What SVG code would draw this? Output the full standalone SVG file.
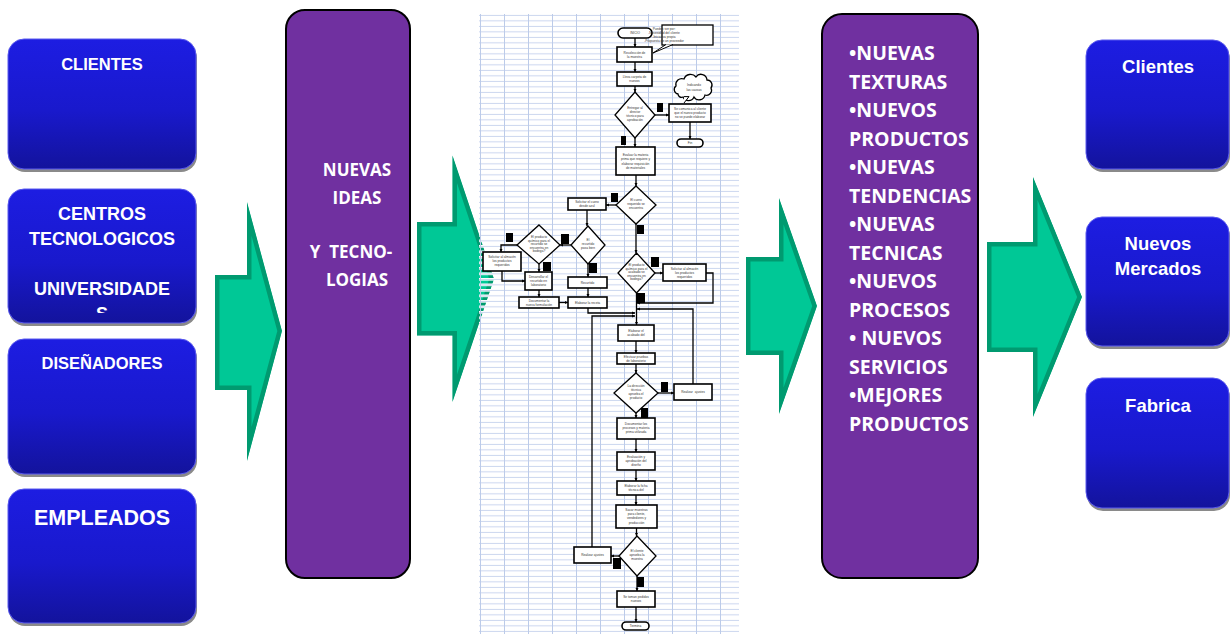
<svg xmlns="http://www.w3.org/2000/svg" width="1232" height="634" viewBox="0 0 1232 634">
<defs>
  <linearGradient id="blueFill" x1="0" y1="0" x2="0" y2="1">
    <stop offset="0" stop-color="#1d1de2"/>
    <stop offset="0.55" stop-color="#1919cc"/>
    <stop offset="1" stop-color="#13139c"/>
  </linearGradient>
  <pattern id="rows" patternUnits="userSpaceOnUse" x="480" y="14" width="24" height="5.5">
    <rect x="0" y="0" width="24" height="2.6" fill="#ffffff"/>
    <rect x="0" y="0.9" width="24" height="0.9" fill="#c6d3ee"/>
    <rect x="0" y="0" width="1" height="5.5" fill="#bccbe9"/>
  </pattern>
  <marker id="ah" viewBox="0 0 6 6" refX="6" refY="3" markerWidth="3.2" markerHeight="3.2" markerUnits="userSpaceOnUse" orient="auto">
    <path d="M0,0 L6,3 L0,6 Z" fill="#000"/>
  </marker>
  <polygon id="arr1" points="215,275 247,275 247,202 282,331 247,461 247,390 215,390"/>
  <polygon id="arr2" points="417,222 452.5,222 452.5,155.5 494,279 452.5,402 452.5,335.5 417,335.5"/>
  <polygon id="arr3" points="746,257 779,257 779,198 817,306 779,414 779,355 746,355"/>
  <polygon id="arr4" points="987,242 1033,242 1033,177 1082,297 1033,417 1033,352 987,352"/>
  <clipPath id="c1"><use href="#arr1"/></clipPath>
  <clipPath id="c2"><use href="#arr2"/></clipPath>
  <clipPath id="c3"><use href="#arr3"/></clipPath>
  <clipPath id="c4"><use href="#arr4"/></clipPath>
  <clipPath id="box2clip"><rect x="8" y="189" width="188" height="124"/></clipPath>
  <style>
    .bx{fill:url(#blueFill);stroke:#5a5aee;stroke-width:1}
    .shd{fill:#8a8a8a}
    .bt{font-family:"Liberation Sans",Arial,sans-serif;font-weight:bold;fill:#ffffff;text-anchor:middle}
    .pp{fill:#7030a0;stroke:#000000;stroke-width:2}
    .pt{font-family:"Open Sans",sans-serif;font-weight:bold;fill:#ffffff;white-space:pre}
    .ga{fill:#00c896;stroke:#009a70;stroke-width:9}
    .fb{fill:#ffffff;stroke:#000000;stroke-width:1.6}
    .fd{fill:#ffffff;stroke:#000000;stroke-width:1.3}
    .ft{font-family:"Liberation Sans",Arial,sans-serif;font-size:3.2px;fill:#333333;text-anchor:middle;white-space:pre}
    .fl{fill:none;stroke:#000000;stroke-width:1.3}
    .fa{fill:none;stroke:#000000;stroke-width:1.3;marker-end:url(#ah)}
    .lb{fill:#000000}
  </style>
</defs>

<rect width="1232" height="634" fill="#ffffff"/>

<!-- sources -->
<g id="node-clientes">
  <rect class="shd" x="9" y="42" width="188" height="130" rx="16"/>
  <rect class="bx" x="8" y="39" width="188" height="130" rx="16"/>
  <text class="bt" x="102" y="70" font-size="16.5">CLIENTES</text>
</g>
<g id="node-centros">
  <rect class="shd" x="9" y="192" width="188" height="134" rx="16"/>
  <rect class="bx" x="8" y="189" width="188" height="134" rx="16"/>
  <text class="bt" x="102" y="219.5" font-size="18">CENTROS</text>
  <text class="bt" x="102" y="244.5" font-size="18">TECNOLOGICOS</text>
  <text class="bt" x="102" y="294.5" font-size="18">UNIVERSIDADE</text>
  <text class="bt" x="102" y="319.5" font-size="18" clip-path="url(#box2clip)">S</text>
</g>
<g id="node-disenadores">
  <rect class="shd" x="9" y="342" width="188" height="135" rx="16"/>
  <rect class="bx" x="8" y="339" width="188" height="135" rx="16"/>
  <text class="bt" x="102" y="369" font-size="16.5">DISEÑADORES</text>
</g>
<g id="node-empleados">
  <rect class="shd" x="9" y="492" width="188" height="134" rx="16"/>
  <rect class="bx" x="8" y="489" width="188" height="134" rx="16"/>
  <text class="bt" x="102" y="525" font-size="21.5">EMPLEADOS</text>
</g>

<!-- ideas block -->
<g id="node-ideas">
  <rect class="pp" x="286" y="10" width="124" height="568" rx="19"/>
  <text class="pt" x="357" y="176" font-size="17" text-anchor="middle">NUEVAS</text>
  <text class="pt" x="357" y="204" font-size="17" text-anchor="middle">IDEAS</text>
  <text class="pt" x="351" y="258" font-size="17" text-anchor="middle">Y  TECNO-</text>
  <text class="pt" x="357" y="286" font-size="17" text-anchor="middle">LOGIAS</text>
</g>

<!-- flowchart sheet: background first, the incoming arrow shows through the cells -->
<g id="node-flowchart">
  <rect x="479" y="14" width="260" height="620" fill="#ffffff"/>
</g>

<g id="connectors">
  <g clip-path="url(#c1)"><use href="#arr1" class="ga"/></g>
  <g clip-path="url(#c2)"><use href="#arr2" class="ga"/></g>
  <g clip-path="url(#c3)"><use href="#arr3" class="ga"/></g>
  <g clip-path="url(#c4)"><use href="#arr4" class="ga"/></g>
</g>

<g id="node-flowchart-sheet">
  <rect x="479" y="14" width="260" height="620" fill="url(#rows)"/>

  <!-- flow lines -->
  <g id="flow-lines">
    <path class="fa" d="M635,38 V47"/>
    <path class="fa" d="M635,62 V72"/>
    <path class="fa" d="M635,86 V92"/>
    <path class="fa" d="M655,115 H669"/>
    <path class="fa" d="M690,122 V139"/>
    <path class="fa" d="M635,138 V147"/>
    <path class="fa" d="M636,175 V186"/>
    <path class="fa" d="M616,205 H606"/>
    <path class="fa" d="M587,210 V226"/>
    <path class="fa" d="M571,245 H560"/>
    <path class="fa" d="M517,245 H501 V252"/>
    <path class="fa" d="M539,264 V272"/>
    <path class="fa" d="M502,271 V281 H525"/>
    <path class="fa" d="M539,290 V297"/>
    <path class="fa" d="M559,302.5 H568"/>
    <path class="fa" d="M588,264 V277"/>
    <path class="fa" d="M588,288 V297"/>
    <path class="fa" d="M588,308 V313 H635"/>
    <path class="fa" d="M655,273 H663"/>
    <path class="fa" d="M706,273 H713 V303 H637"/>
    <path class="fa" d="M636,224 V253"/>
    <path class="fa" d="M636.5,293 V325"/>
    <path class="fa" d="M693,384 V309 H637"/>
    <path class="fa" d="M592,547 V316 H635"/>
    <path class="fa" d="M636,341 V353"/>
    <path class="fa" d="M636,364 V373"/>
    <path class="fa" d="M658,393 H674"/>
    <path class="fa" d="M636,413 V418"/>
    <path class="fa" d="M636,439 V452"/>
    <path class="fa" d="M636,470 V481"/>
    <path class="fa" d="M636,495 V505"/>
    <path class="fa" d="M636.5,528 V536"/>
    <path class="fa" d="M619,556 H611"/>
    <path class="fa" d="M637,576 V591"/>
    <path class="fa" d="M636,607 V622"/>
  </g>

  <!-- start and notes -->
  <rect class="fb" x="618" y="28" width="34" height="10" rx="5"/>
  <text class="ft" x="635" y="34.3">INICIO</text>
  <rect class="fd" x="662" y="25" width="51" height="20"/>
  <path d="M666,44.5 L653,53 L673,44.5" fill="#ffffff" stroke="#000" stroke-width="1"/>
  <text class="ft" x="664" y="29.5" font-size="2.8" text-anchor="start">Pueden ser por:</text>
  <text class="ft" x="664" y="33.5" font-size="2.8" text-anchor="start">-Necesidad del cliente</text>
  <text class="ft" x="664" y="37.5" font-size="2.8" text-anchor="start">-Iniciativa propia</text>
  <text class="ft" x="664" y="41.5" font-size="2.8" text-anchor="start">-Propuesta de un proveedor</text>

  <rect class="fb" x="617" y="47" width="35" height="15"/>
  <text class="ft" x="634.5" y="53.5">Recolección de</text>
  <text class="ft" x="634.5" y="58">la muestra</text>
  <rect class="fb" x="617" y="72" width="35" height="14"/>
  <text class="ft" x="634.5" y="77.5">Lleva carpeta de</text>
  <text class="ft" x="634.5" y="82">nuevos</text>

  <polygon class="fd" points="635,92 655,115 635,138 615,115"/>
  <text class="ft" x="635" y="109" font-size="2.7">Entregar al</text>
  <text class="ft" x="635" y="113" font-size="2.7">director</text>
  <text class="ft" x="635" y="117" font-size="2.7">técnico para</text>
  <text class="ft" x="635" y="121" font-size="2.7">aprobación</text>

  <path class="fd" d="M678,94 a4.5,4.5 0 0 1 -2,-8 a6,6 0 0 1 8,-7 a7,7 0 0 1 12,-2 a6,6 0 0 1 11,3 a5,5 0 0 1 4,8 a5,5 0 0 1 -6,7 a6,6 0 0 1 -11,2 a6,6 0 0 1 -11,0 a3.5,3.5 0 0 1 -5,-3 z"/>
  <path d="M684,96.6 L689,96.6 L684,103" fill="#ffffff" stroke="#000" stroke-width="1"/>
  <text class="ft" x="694" y="86">Indicando</text>
  <text class="ft" x="694" y="91">las causas</text>

  <rect class="fb" x="669" y="104" width="42" height="18"/>
  <text class="ft" x="690" y="110">Se comunica al cliente</text>
  <text class="ft" x="690" y="114.2">que el nuevo producto</text>
  <text class="ft" x="690" y="118.4">no se puede elaborar</text>
  <rect class="fb" x="677" y="139" width="26" height="8" rx="4"/>
  <text class="ft" x="690" y="144.2">Fin</text>

  <rect class="fb" x="616" y="147" width="39" height="28"/>
  <text class="ft" x="635.5" y="155.6">Evaluar la materia</text>
  <text class="ft" x="635.5" y="160.2">prima que requiere y</text>
  <text class="ft" x="635.5" y="164.8">elaborar requisición</text>
  <text class="ft" x="635.5" y="169.4">de materiales</text>

  <polygon class="fd" points="636,186 656,205 636,224 616,205"/>
  <text class="ft" x="636" y="201" font-size="2.7">El cuero</text>
  <text class="ft" x="636" y="205" font-size="2.7">requerido se</text>
  <text class="ft" x="636" y="209" font-size="2.7">encuentra</text>

  <rect class="fb" x="568" y="198" width="38" height="12"/>
  <text class="ft" x="587" y="202.8">Solicitar el cuero</text>
  <text class="ft" x="587" y="207">desde azul</text>

  <polygon class="fd" points="588,226 605,245 588,264 571,245"/>
  <text class="ft" x="588" y="240.5" font-size="2.7">El</text>
  <text class="ft" x="588" y="244.5" font-size="2.7">recurtido</text>
  <text class="ft" x="588" y="248.5" font-size="2.7">pasa bien</text>

  <polygon class="fd" points="539,225 560,245 539,264 517,245"/>
  <text class="ft" x="539" y="238" font-size="2.5">El producto</text>
  <text class="ft" x="539" y="241.5" font-size="2.5">químico para el</text>
  <text class="ft" x="539" y="245" font-size="2.5">recurtido se</text>
  <text class="ft" x="539" y="248.5" font-size="2.5">encuentra en</text>
  <text class="ft" x="539" y="252" font-size="2.5">bodega?</text>

  <rect class="fb" x="483" y="252" width="38" height="19"/>
  <text class="ft" x="502" y="257.5">Solicitar al almacén</text>
  <text class="ft" x="502" y="261.7">los productos</text>
  <text class="ft" x="502" y="265.9">requeridos</text>

  <rect class="fb" x="525" y="272" width="27" height="18"/>
  <text class="ft" x="538.5" y="277.5">Desarrollar el</text>
  <text class="ft" x="538.5" y="281.7">recurtido en</text>
  <text class="ft" x="538.5" y="285.9">laboratorio</text>

  <rect class="fb" x="519" y="297" width="40" height="11"/>
  <text class="ft" x="539" y="301.5">Documentar la</text>
  <text class="ft" x="539" y="305.7">nueva formulación</text>

  <rect class="fb" x="568" y="277" width="39" height="11"/>
  <text class="ft" x="587.5" y="283.7">Recurtido</text>
  <rect class="fb" x="568" y="297" width="39" height="11"/>
  <text class="ft" x="587.5" y="303.7">Elaborar la receta</text>

  <polygon class="fd" points="636.5,253 655,273 636.5,293 618,273"/>
  <text class="ft" x="636.5" y="266" font-size="2.5">El producto</text>
  <text class="ft" x="636.5" y="269.5" font-size="2.5">químico para el</text>
  <text class="ft" x="636.5" y="273" font-size="2.5">acabado se</text>
  <text class="ft" x="636.5" y="276.5" font-size="2.5">encuentra en</text>
  <text class="ft" x="636.5" y="280" font-size="2.5">bodega?</text>

  <rect class="fb" x="663" y="264" width="43" height="17"/>
  <text class="ft" x="684.5" y="269.5">Solicitar al almacén</text>
  <text class="ft" x="684.5" y="273.7">los productos</text>
  <text class="ft" x="684.5" y="277.9">requeridos</text>

  <rect class="fb" x="618" y="325" width="36" height="16"/>
  <text class="ft" x="636" y="331.5">Elaborar el</text>
  <text class="ft" x="636" y="335.7">acabado del</text>

  <rect class="fb" x="617" y="353" width="38" height="11"/>
  <text class="ft" x="636" y="357.6">Efectuar pruebas</text>
  <text class="ft" x="636" y="361.8">de laboratorio</text>

  <polygon class="fd" points="636,373 658,393 636,413 614,393"/>
  <text class="ft" x="636" y="387" font-size="2.7">La dirección</text>
  <text class="ft" x="636" y="391" font-size="2.7">técnica</text>
  <text class="ft" x="636" y="395" font-size="2.7">aprueba el</text>
  <text class="ft" x="636" y="399" font-size="2.7">producto</text>

  <rect class="fb" x="674" y="384" width="38" height="16"/>
  <text class="ft" x="693" y="393.2">Realizar  ajustes</text>

  <rect class="fb" x="617" y="418" width="38" height="21"/>
  <text class="ft" x="636" y="424.5">Documentar los</text>
  <text class="ft" x="636" y="428.7">procesos y materia</text>
  <text class="ft" x="636" y="432.9">prima utilizada</text>

  <rect class="fb" x="617" y="452" width="38" height="18"/>
  <text class="ft" x="636" y="457.5">Evaluación y</text>
  <text class="ft" x="636" y="461.7">aprobación del</text>
  <text class="ft" x="636" y="465.9">diseño</text>

  <rect class="fb" x="617" y="481" width="38" height="14"/>
  <text class="ft" x="636" y="486.8">Elaborar la ficha</text>
  <text class="ft" x="636" y="491">técnica del</text>

  <rect class="fb" x="616" y="505" width="41" height="23"/>
  <text class="ft" x="636.5" y="511">Sacar muestras</text>
  <text class="ft" x="636.5" y="515.2">para cliente,</text>
  <text class="ft" x="636.5" y="519.4">vendedores y</text>
  <text class="ft" x="636.5" y="523.6">producción</text>

  <polygon class="fd" points="637,536 656,556 637,576 619,556"/>
  <text class="ft" x="637" y="551.5" font-size="2.7">El cliente</text>
  <text class="ft" x="637" y="555.5" font-size="2.7">aprueba la</text>
  <text class="ft" x="637" y="559.5" font-size="2.7">muestra</text>

  <rect class="fb" x="574" y="547" width="37" height="16"/>
  <text class="ft" x="592.5" y="556">Realizar ajustes</text>

  <rect class="fb" x="617" y="591" width="38" height="16"/>
  <text class="ft" x="636" y="597.5">Se toman pedidos</text>
  <text class="ft" x="636" y="601.7">nuevos</text>

  <rect class="fb" x="622" y="622" width="27" height="8" rx="4"/>
  <text class="ft" x="635.5" y="627.2">Termina</text>

  <!-- decision branch tags -->
  <g id="branch-tags">
    <rect class="lb" x="657" y="103" width="6" height="9"/>
    <rect class="lb" x="621" y="136" width="5" height="9"/>
    <rect class="lb" x="611" y="193" width="7" height="9"/>
    <rect class="lb" x="637" y="225" width="7" height="9"/>
    <rect class="lb" x="651" y="257" width="8" height="10"/>
    <rect class="lb" x="637" y="293" width="8" height="10"/>
    <rect class="lb" x="561" y="234" width="8" height="10"/>
    <rect class="lb" x="506" y="233" width="7" height="9"/>
    <rect class="lb" x="543" y="262" width="8" height="9"/>
    <rect class="lb" x="589" y="263" width="8" height="10"/>
    <rect class="lb" x="661" y="382" width="7" height="10"/>
    <rect class="lb" x="641" y="408" width="7" height="10"/>
    <rect class="lb" x="613" y="558" width="8" height="11"/>
    <rect class="lb" x="637" y="577" width="7" height="10"/>
  </g>
</g>

<!-- outcomes block -->
<g id="node-resultados">
  <rect class="pp" x="822" y="14" width="156" height="564" rx="20"/>
  <text class="pt" x="849" y="60" font-size="19.5">•NUEVAS</text>
  <text class="pt" x="849" y="88.5" font-size="19.5">TEXTURAS</text>
  <text class="pt" x="849" y="117" font-size="19.5">•NUEVOS</text>
  <text class="pt" x="849" y="145.5" font-size="19.5">PRODUCTOS</text>
  <text class="pt" x="849" y="174" font-size="19.5">•NUEVAS</text>
  <text class="pt" x="849" y="202.5" font-size="19.5">TENDENCIAS</text>
  <text class="pt" x="849" y="231" font-size="19.5">•NUEVAS</text>
  <text class="pt" x="849" y="259.5" font-size="19.5">TECNICAS</text>
  <text class="pt" x="849" y="288" font-size="19.5">•NUEVOS</text>
  <text class="pt" x="849" y="316.5" font-size="19.5">PROCESOS</text>
  <text class="pt" x="849" y="345" font-size="19.5">• NUEVOS</text>
  <text class="pt" x="849" y="373.5" font-size="19.5">SERVICIOS</text>
  <text class="pt" x="849" y="402" font-size="19.5">•MEJORES</text>
  <text class="pt" x="849" y="430.5" font-size="19.5">PRODUCTOS</text>
</g>

<!-- targets -->
<g id="node-clientes-destino">
  <rect class="shd" x="1087" y="43" width="143" height="129" rx="16"/>
  <rect class="bx" x="1086" y="40" width="143" height="129" rx="16"/>
  <text class="bt" x="1158" y="73" font-size="18.5">Clientes</text>
</g>
<g id="node-mercados">
  <rect class="shd" x="1087" y="220" width="143" height="129" rx="16"/>
  <rect class="bx" x="1086" y="217" width="143" height="129" rx="16"/>
  <text class="bt" x="1158" y="250" font-size="18.5">Nuevos</text>
  <text class="bt" x="1158" y="275" font-size="18.5">Mercados</text>
</g>
<g id="node-fabrica">
  <rect class="shd" x="1087" y="381" width="143" height="130" rx="16"/>
  <rect class="bx" x="1086" y="378" width="143" height="130" rx="16"/>
  <text class="bt" x="1158" y="412" font-size="18.5">Fabrica</text>
</g>
</svg>
